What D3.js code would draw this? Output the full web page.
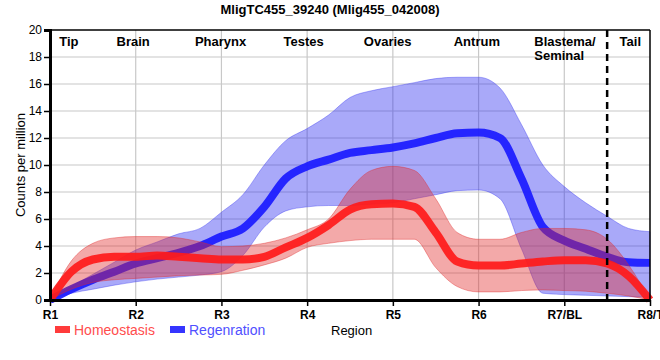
<!DOCTYPE html>
<html><head><meta charset="utf-8">
<script src="https://cdn.jsdelivr.net/npm/d3@7"></script>
<style>body{margin:0;background:#fff}svg{display:block;font-family:"Liberation Sans",Arial,sans-serif}</style>
</head><body><svg id="c" width="660" height="360"></svg>
<script>
const title = "MligTC455_39240 (Mlig455_042008)";
const regions = ["R1","R2","R3","R4","R5","R6","R7/BL","R8/T"];
const sections = [
  {name:["Tip"], at:0.22},
  {name:["Brain"], at:0.97},
  {name:["Pharynx"], at:1.99},
  {name:["Testes"], at:2.96},
  {name:["Ovaries"], at:3.94},
  {name:["Antrum"], at:4.98},
  {name:["Blastema/","Seminal"], at:5.65, left:true},
  {name:["Tail"], at:6.77}
];
const tailBoundary = 6.5;
const yTicks = [0,2,4,6,8,10,12,14,16,18,20];
const pos = d3.range(0, 7.001, 0.25);
const homeoMean = [0,2.1,3.0,3.2,3.2,3.3,3.2,3.1,3.0,3.0,3.2,3.9,4.6,5.55,6.7,7.1,7.15,6.9,5.0,2.85,2.55,2.55,2.7,2.85,2.95,2.95,2.7,1.78,0];
const homeoHigh = [0,2.9,4.2,4.6,4.7,4.7,4.6,4.3,3.95,4.0,4.2,4.6,5.2,6.0,8.2,9.6,9.9,9.6,7.5,5.0,4.5,4.5,5.0,5.3,5.3,5.2,4.5,2.6,0];
const homeoLow  = [0,0.8,1.3,1.5,1.6,1.7,1.8,1.85,1.9,2.2,2.6,3.1,3.9,4.2,4.4,4.5,4.5,4.5,2.4,1.0,0.6,0.6,0.7,0.75,0.7,0.65,0.5,0.3,0];
const regenMean = [0,0.8,1.5,2.1,2.7,3.1,3.5,4.0,4.7,5.3,6.9,9.0,9.9,10.4,10.9,11.1,11.3,11.6,12.0,12.35,12.4,12.0,9.0,5.4,4.4,3.8,3.2,2.8,2.75];
const regenHigh = [0,1.0,1.9,2.8,3.7,4.3,4.9,5.3,6.5,7.8,10.0,11.8,12.7,13.7,15.0,15.5,15.8,16.1,16.4,16.5,16.5,15.7,13.0,10.0,8.4,7.2,6.2,5.3,5.06];
const regenLow  = [0,0.5,0.8,1.1,1.35,1.55,1.7,1.85,2.1,3.3,5.4,6.6,6.9,7.0,7.0,7.1,7.2,7.5,7.8,8.1,8.15,7.5,3.8,0.5,0.4,0.35,0.3,0.25,0.2];
const seriesNames = ["Homeostasis","Regenration"];

const svg = d3.select("#c");
const m = {l:50, r:10, t:30, b:60};
const W = 660, H = 360;
const x = d3.scaleLinear().domain([0,7]).range([m.l, W-m.r]);
const y = d3.scaleLinear().domain([0,20]).range([H-m.b, m.t]);

// grid
const g = svg.append("g");
g.selectAll("line.v").data(d3.range(1,7)).join("line")
  .attr("x1",d=>x(d)).attr("x2",d=>x(d)).attr("y1",y(0)).attr("y2",y(20))
  .attr("stroke","#c8c8c8").attr("stroke-width",1.2);
g.selectAll("line.h").data(yTicks.slice(1,-1)).join("line")
  .attr("x1",x(0)).attr("x2",x(7)).attr("y1",d=>y(d)).attr("y2",d=>y(d))
  .attr("stroke","#c8c8c8").attr("stroke-width",1.2);

const clip = svg.append("clipPath").attr("id","pc").append("rect")
  .attr("x",x(0)).attr("y",y(20)).attr("width",x(7)-x(0)+6).attr("height",y(0)-y(20)+3);
const plot = svg.append("g").attr("clip-path","url(#pc)");

const curve = d3.curveMonotoneX;
function band(lo, hi){ return d3.area().x((d,i)=>x(pos[i])).y0((d,i)=>y(lo[i])).y1((d,i)=>y(hi[i])).curve(curve)(pos); }
function line(v){ return d3.line().x((d,i)=>x(pos[i])).y((d,i)=>y(v[i])).curve(curve)(pos); }

plot.append("path").attr("d",band(regenLow,regenHigh)).attr("fill","rgb(40,40,240)").attr("fill-opacity",0.4)
  .attr("stroke","rgb(60,60,240)").attr("stroke-opacity",0.5).attr("stroke-width",0.8);
plot.append("path").attr("d",line(regenMean)).attr("fill","none").attr("stroke","#1a1aff").attr("stroke-opacity",0.92).attr("stroke-width",8);
plot.append("path").attr("d",band(homeoLow,homeoHigh)).attr("fill","rgb(225,40,40)").attr("fill-opacity",0.4)
  .attr("stroke","rgb(225,40,40)").attr("stroke-opacity",0.5).attr("stroke-width",0.8);
plot.append("path").attr("d",line(homeoMean)).attr("fill","none").attr("stroke","#ff1a1a").attr("stroke-opacity",0.92).attr("stroke-width",8);

// dashed tail boundary
svg.append("line").attr("x1",x(tailBoundary)).attr("x2",x(tailBoundary)).attr("y1",y(20)).attr("y2",y(0))
  .attr("stroke","#000").attr("stroke-width",2.5).attr("stroke-dasharray","7,5");

// frame
svg.append("line").attr("x1",x(0)).attr("x2",x(7)).attr("y1",y(20)).attr("y2",y(20)).attr("stroke","#000").attr("stroke-width",1.5);
svg.append("line").attr("x1",x(7)).attr("x2",x(7)).attr("y1",y(20)).attr("y2",y(0)).attr("stroke","#000").attr("stroke-width",1.5);

// axes
const yAxis = svg.append("g").attr("transform",`translate(${x(0)},0)`)
  .call(d3.axisLeft(y).tickValues(yTicks).tickSize(6).tickPadding(2));
yAxis.select(".domain").attr("stroke-width",3);
yAxis.selectAll("text").attr("font-size",12).attr("fill","#000").attr("font-family","Liberation Sans, Arial, sans-serif");
yAxis.selectAll(".tick line").attr("stroke-width",1.5);

const xAxis = svg.append("g").attr("transform",`translate(0,${y(0)})`)
  .call(d3.axisBottom(x).tickValues(d3.range(0,8)).tickFormat(i=>regions[i]).tickSize(6).tickPadding(4).tickSizeOuter(0));
xAxis.select(".domain").attr("stroke-width",3);
xAxis.selectAll(".tick line").attr("stroke-width",1.5);
xAxis.selectAll("text").attr("font-size",12).attr("font-weight","bold").attr("fill","#000").attr("font-family","Liberation Sans, Arial, sans-serif");

// section labels
sections.forEach(s=>{
  const t = svg.append("text").attr("x",x(s.at)).attr("y",46)
    .attr("text-anchor", s.left ? "start" : "middle")
    .attr("font-size",13).attr("font-weight","bold").attr("fill","#000");
  s.name.forEach((n,k)=>t.append("tspan").attr("x",x(s.at)).attr("dy",k?14:0).text(n));
});

// title
svg.append("text").attr("x",330).attr("y",14).attr("text-anchor","middle")
  .attr("font-size",13).attr("font-weight","bold").text(title);

// y label
svg.append("text").attr("transform","translate(25,165) rotate(-90)").attr("text-anchor","middle")
  .attr("font-size",13).text("Counts per million");

// x label
svg.append("text").attr("x",331).attr("y",335).attr("font-size",13).text("Region");

// legend
const legCols = ["#ff3b3b","#3535ff"];
const legTxt = ["#ff4d4d","#5050ff"];
const legX = [55,170];
seriesNames.forEach((n,i)=>{
  svg.append("rect").attr("x",legX[i]).attr("y",326).attr("width",15).attr("height",7).attr("fill",legCols[i]);
  svg.append("text").attr("x",legX[i]+19).attr("y",335).attr("font-size",14).attr("fill",legTxt[i]).text(n);
});
</script></body></html>
